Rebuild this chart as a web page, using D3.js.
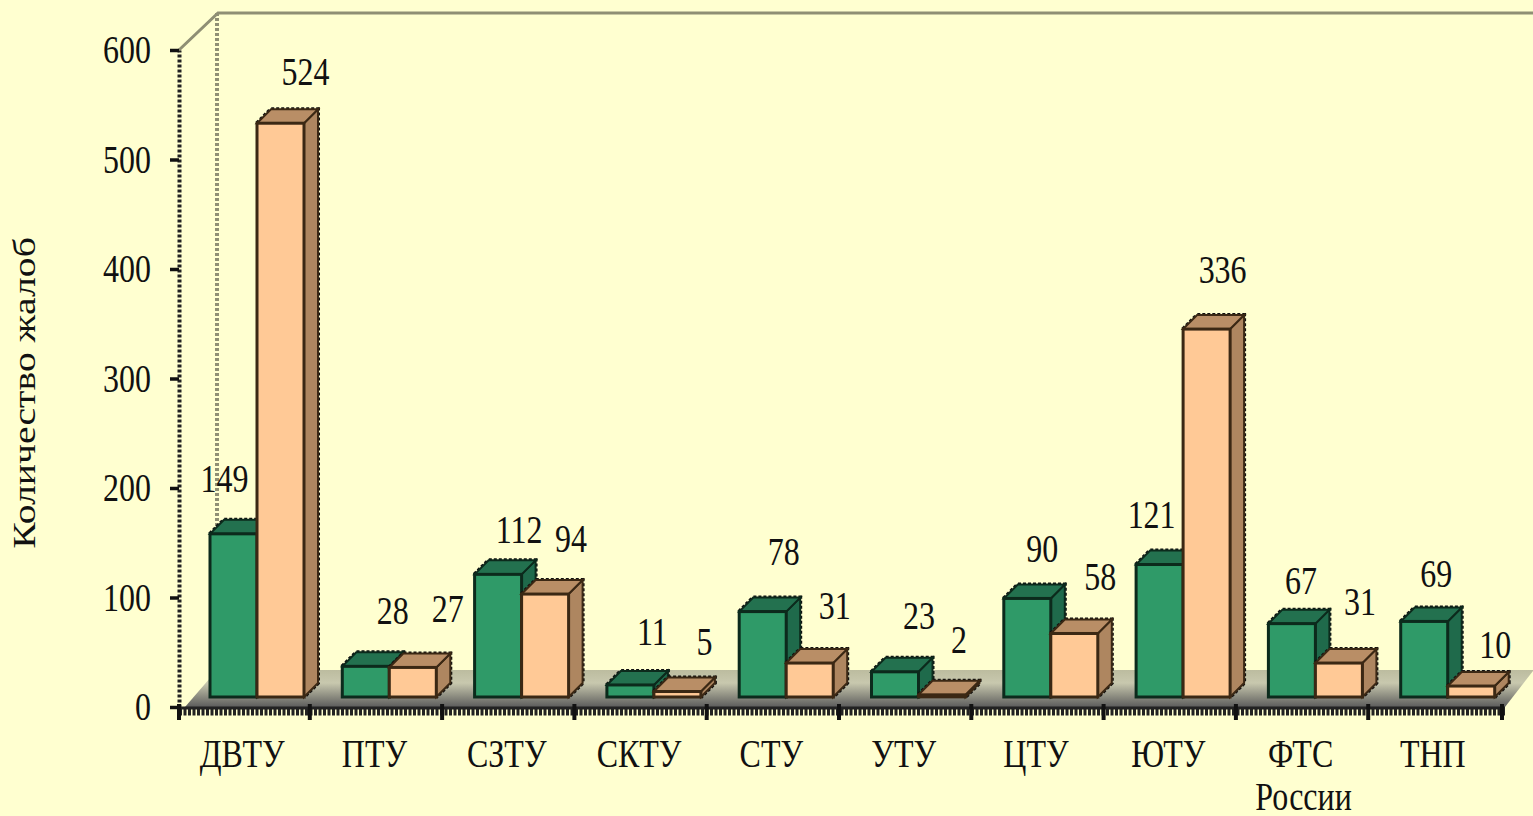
<!DOCTYPE html>
<html lang="ru">
<head>
    <meta charset="UTF-8">
    <title>Количество жалоб</title>
    <style>
        html, body { margin: 0; padding: 0; background: #ffffd0; overflow: hidden; }
        svg { display: block; }
        text { font-family: "Liberation Serif", serif; fill: #111; }
        .domain-dots { stroke-dasharray: 3 2; }
    </style>
</head>
<body>
    <div id="chart"></div>
    <script src="https://d3js.org/d3.v7.min.js"></script>
    <script>
        // Data
        var categories = ["ДВТУ", "ПТУ", "СЗТУ", "СКТУ", "СТУ", "УТУ", "ЦТУ", "ЮТУ", "ФТС России", "ТНП"];
        var seriesNames = ["green", "peach"];
        var greenValues = [149, 28, 112, 11, 78, 23, 90, 121, 67, 69];
        var peachValues = [524, 27, 94, 5, 31, 2, 58, 336, 31, 10];
        var yTickValues = [0, 100, 200, 300, 400, 500, 600];
        var yTitle = "Количество жалоб";

        // Hand placed value labels in the original, so each has its own nudge [dx, dy]
        var greenNudge = [[-9, -55], [27, -55], [21, -44], [22, -53], [21, -59], [24, -56], [15, -49], [-8, -49], [9, -43], [12, -47]];
        var peachNudge = [[25, -51], [35, -58], [26, -55], [27, -49], [25, -57], [17, -55], [26, -56], [16, -59], [21, -61], [24, -41]];

        var width = 1533, height = 816;
        var wallDepth = 38;     // floor depth, in px on both axes
        var barDepth = 14;
        var baseLift = 10;      // bars stand this far behind the front edge
        var squeeze = 0.82;     // the source font is tall and narrow
        var fontSize = 39;

        var colors = {
            green: { front: "#2f9a68", top: "#23714f", side: "#1f6a4b", edge: "#0c2a1c" },
            peach: { front: "#ffc996", top: "#b98e66", side: "#ae8660", edge: "#3b2814" }
        };

        var svg = d3.select("#chart").append("svg")
            .attr("width", width)
            .attr("height", height);

        var x = d3.scaleBand().domain(categories).range([179, 1502]);
        var inner = d3.scaleBand().domain(seriesNames).range([31, 125]);
        var y = d3.scaleLinear().domain([0, 600]).range([707, 50]);

        var grad = svg.append("defs").append("linearGradient")
            .attr("id", "floorFill")
            .attr("x1", 0).attr("y1", 0).attr("x2", 0).attr("y2", 1);
        grad.append("stop").attr("offset", "0%").attr("stop-color", "#bcbc9f");
        grad.append("stop").attr("offset", "35%").attr("stop-color", "#c8c8ae");
        grad.append("stop").attr("offset", "100%").attr("stop-color", "#5c5c5c");

        var left = x.range()[0], right = x.range()[1] + 3;
        var floorY = y(0), backY = y(0) - wallDepth + 1;

        // floor
        svg.append("path")
            .attr("d", d3.line()([[left + 6, floorY], [left + wallDepth, backY], [width, backY], [width, backY + 1], [right, floorY]]))
            .attr("fill", "url(#floorFill)");

        // back wall edges
        var wallColor = "#8f8f74";
        svg.append("path")
            .attr("d", d3.line()([[left, y(600)], [left + wallDepth + 1, y(600) - 37], [width, y(600) - 37]]))
            .attr("fill", "none").attr("stroke", wallColor).attr("stroke-width", 3);
        svg.append("line")
            .attr("class", "domain-dots")
            .attr("x1", left + wallDepth).attr("x2", left + wallDepth)
            .attr("y1", y(600) - 37).attr("y2", backY)
            .attr("stroke", wallColor).attr("stroke-width", 4);

        // y axis
        var yAxis = svg.append("g")
            .attr("transform", "translate(" + left + ",0)")
            .call(d3.axisLeft(y).tickValues(yTickValues).tickSize(9).tickSizeOuter(0));
        yAxis.select(".domain")
            .attr("class", "domain domain-dots")
            .attr("stroke", "#222").attr("stroke-width", 4);
        yAxis.selectAll(".tick line").attr("stroke", "#111").attr("stroke-width", 3.5);
        yAxis.selectAll("text")
            .style("font-size", fontSize + "px")
            .attr("x", -28 / squeeze)
            .attr("dy", "0.33em")
            .attr("transform", "scale(" + squeeze + ",1)");

        // the title runs wide instead, same font stretched along the text
        svg.append("text")
            .attr("transform", "translate(35,393) rotate(-90) scale(1.28,1)")
            .attr("text-anchor", "middle")
            .style("font-size", "31px")
            .text(yTitle);

        // x axis: thick comb of minor ticks, major ticks on band edges
        svg.append("line")
            .attr("x1", left).attr("x2", right).attr("y1", floorY + 1).attr("y2", floorY + 1)
            .attr("stroke", "#222").attr("stroke-width", 3);
        svg.append("line")
            .attr("x1", left).attr("x2", right).attr("y1", floorY + 5).attr("y2", floorY + 5)
            .attr("stroke", "#222").attr("stroke-width", 7).attr("stroke-dasharray", "3 1.5");

        var edges = categories.map(function(c, i) { return i ? x(c) - 1.5 : x(c); }).concat([x.range()[1]]);
        svg.selectAll(".major").data(edges).enter().append("line")
            .attr("class", "major")
            .attr("x1", function(d) { return d; }).attr("x2", function(d) { return d; })
            .attr("y1", floorY - 3).attr("y2", floorY + 13)
            .attr("stroke", "#111").attr("stroke-width", 4);

        var xAxis = svg.append("g")
            .attr("transform", "translate(0," + floorY + ")")
            .call(d3.axisBottom(x).tickSize(0).tickPadding(0));
        xAxis.select(".domain").remove();
        xAxis.selectAll("text").each(function(d) {
            var words = d.split(" ");
            var t = d3.select(this).text(null)
                .style("font-size", fontSize + "px")
                .attr("y", 0).attr("dy", 0)
                .attr("transform", "scale(" + squeeze + ",1)");
            words.forEach(function(w, i) {
                t.append("tspan")
                    .attr("x", (i ? 0 : -3) / squeeze)
                    .attr("y", 60 + i * 43)
                    .text(w);
            });
        });

        // bars, one box per value, left to right so the peach box covers the green side
        function drawBox(g, x0, w, y1, color) {
            var y0 = floorY - baseLift;
            var d = barDepth;
            var line = d3.line();
            // dotted silhouette of the back edges, drawn under the faces
            g.append("path")
                .attr("d", line([[x0, y1], [x0 + d, y1 - d], [x0 + w + d, y1 - d], [x0 + w + d, y0 - d], [x0 + w, y0]]))
                .attr("fill", "none").attr("stroke", "#111").attr("stroke-width", 4)
                .attr("stroke-dasharray", "3 2");
            g.append("path")
                .attr("d", line([[x0 + w, y1], [x0 + w + d, y1 - d], [x0 + w + d, y0 - d], [x0 + w, y0]]) + "Z")
                .attr("fill", color.side).attr("stroke", color.edge).attr("stroke-width", 2);
            g.append("path")
                .attr("d", line([[x0, y1], [x0 + d, y1 - d], [x0 + w + d, y1 - d], [x0 + w, y1]]) + "Z")
                .attr("fill", color.top).attr("stroke", color.edge).attr("stroke-width", 2);
            g.append("rect")
                .attr("x", x0).attr("y", y1)
                .attr("width", w).attr("height", y0 - y1)
                .attr("fill", color.front).attr("stroke", color.edge)
                .attr("stroke-width", Math.min(3, y0 - y1 + 0.5));
        }

        var bars = svg.append("g");
        categories.forEach(function(c, i) {
            var g = bars.append("g");
            drawBox(g, x(c) + inner("green"), inner.bandwidth(), y(greenValues[i]) - baseLift, colors.green);
            drawBox(g, x(c) + inner("peach"), inner.bandwidth(), y(peachValues[i]) - baseLift, colors.peach);
        });

        // value labels
        function addLabels(values, name, nudge) {
            svg.selectAll(".label-" + name).data(values).enter().append("text")
                .attr("class", "label-" + name)
                .attr("text-anchor", "middle")
                .attr("dy", "0.33em")
                .style("font-size", fontSize + "px")
                .attr("transform", function(d, i) {
                    var px = x(categories[i]) + inner(name) + inner.bandwidth() / 2 + nudge[i][0];
                    var py = y(d) - baseLift + nudge[i][1];
                    return "translate(" + px + "," + py + ") scale(" + squeeze + ",1)";
                })
                .text(function(d) { return d; });
        }
        addLabels(greenValues, "green", greenNudge);
        addLabels(peachValues, "peach", peachNudge);
    </script>
</body>
</html>
